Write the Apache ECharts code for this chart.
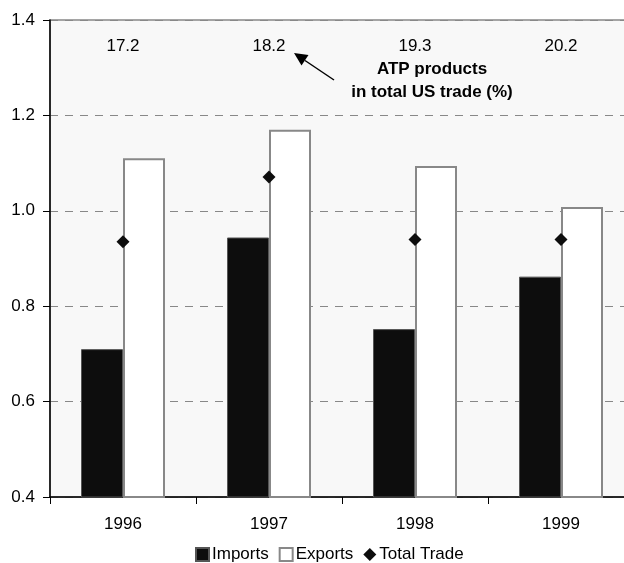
<!DOCTYPE html>
<html>
<head>
<meta charset="utf-8">
<script src="https://cdn.jsdelivr.net/npm/echarts@6/dist/echarts.min.js"></script>
<style>
  html, body { margin: 0; padding: 0; background: #fff; }
  #chart { width: 624px; height: 563px; }
</style>
</head>
<body>
<div id="chart"></div>
<script>
// data
var years = ["1996", "1997", "1998", "1999"];
var imports = [0.71, 0.944, 0.752, 0.862];
var exports = [1.11, 1.17, 1.094, 1.008];
var totalTrade = [0.935, 1.071, 0.94, 0.94];
// ATP products share of total US trade (%), printed across the top
var atpShare = [17.2, 18.2, 19.3, 20.2];
var shareRow = 1.345; // height (axis units) where the share row sits
var yTicks = { min: 0.4, max: 1.4, step: 0.2 };

var font = "Liberation Sans, Arial, sans-serif";
var fs = 17;

var chart = echarts.init(document.getElementById("chart"));
chart.setOption({
  animation: false,
  textStyle: { fontFamily: font },
  grid: {
    left: 50,
    top: 20,
    bottom: 66,
    width: 584, // plot runs past the right edge like in the original
    outerBoundsMode: "none",
    show: true,
    backgroundColor: "#f8f8f8",
    borderColor: "#888",
    borderWidth: 1.5,
  },
  legend: {
    left: 195,
    top: 546,
    padding: 0,
    itemWidth: 13,
    itemHeight: 13,
    itemGap: 10,
    textStyle: { fontSize: fs, color: "#000", fontFamily: font, padding: [0, 0, 0, -2] },
    data: [
      { name: "Imports", icon: "rect" },
      { name: "Exports", icon: "rect" },
      { name: "Total Trade", icon: "diamond", itemStyle: { borderWidth: 0, opacity: 1 } },
    ],
  },
  xAxis: {
    type: "category",
    data: years,
    axisLine: { lineStyle: { color: "#000", width: 1.5 } },
    axisTick: { show: true, length: 7, lineStyle: { color: "#000" } },
    axisLabel: { fontSize: fs, color: "#000", margin: 19 },
  },
  yAxis: {
    type: "value",
    min: yTicks.min,
    max: yTicks.max,
    interval: yTicks.step,
    axisLine: { show: true, lineStyle: { color: "#000", width: 1.5 } },
    axisTick: { show: true, length: 7, lineStyle: { color: "#000" } },
    axisLabel: {
      fontSize: fs,
      color: "#000",
      margin: 15,
      formatter: function (v) {
        return v.toFixed(1);
      },
    },
    splitLine: {
      lineStyle: { color: "#888", type: [8, 7], width: 1 },
    },
  },
  series: [
    {
      name: "Imports",
      type: "bar",
      data: imports,
      barWidth: 42,
      barGap: "0%",
      itemStyle: { color: "#0d0d0d", borderColor: "#555", borderWidth: 1 },
    },
    {
      name: "Exports",
      type: "bar",
      data: exports,
      barWidth: 42,
      itemStyle: { color: "#fff", borderColor: "#888", borderWidth: 2 },
    },
    {
      name: "Total Trade",
      type: "scatter",
      data: totalTrade,
      symbol: "diamond",
      symbolSize: [13, 13],
      itemStyle: { color: "#0d0d0d", opacity: 1 },
      z: 5,
    },
    {
      name: "share",
      type: "scatter",
      data: atpShare.map(function (s) {
        return { value: shareRow, share: s };
      }),
      symbolSize: 0,
      silent: true,
      itemStyle: { opacity: 1 },
      label: {
        show: true,
        position: "inside",
        fontSize: fs,
        color: "#000",
        opacity: 1,
        formatter: function (p) {
          return p.data.share.toFixed(1);
        },
      },
    },
  ],
  graphic: [
    {
      type: "text",
      x: 432,
      y: 69,
      style: {
        text: "ATP products",
        font: "bold " + fs + "px " + font,
        fill: "#000",
        align: "center",
        verticalAlign: "middle",
      },
    },
    {
      type: "text",
      x: 432,
      y: 92,
      style: {
        text: "in total US trade (%)",
        font: "bold " + fs + "px " + font,
        fill: "#000",
        align: "center",
        verticalAlign: "middle",
      },
    },
    // arrow pointing at the share label
    {
      type: "line",
      shape: { x1: 334, y1: 80, x2: 305, y2: 60.5 },
      style: { stroke: "#000", lineWidth: 1.5 },
    },
    {
      type: "polygon",
      shape: { points: [[294, 53], [308.5, 55], [301.5, 65.5]] },
      style: { fill: "#000" },
    },
  ],
});
</script>
</body>
</html>
